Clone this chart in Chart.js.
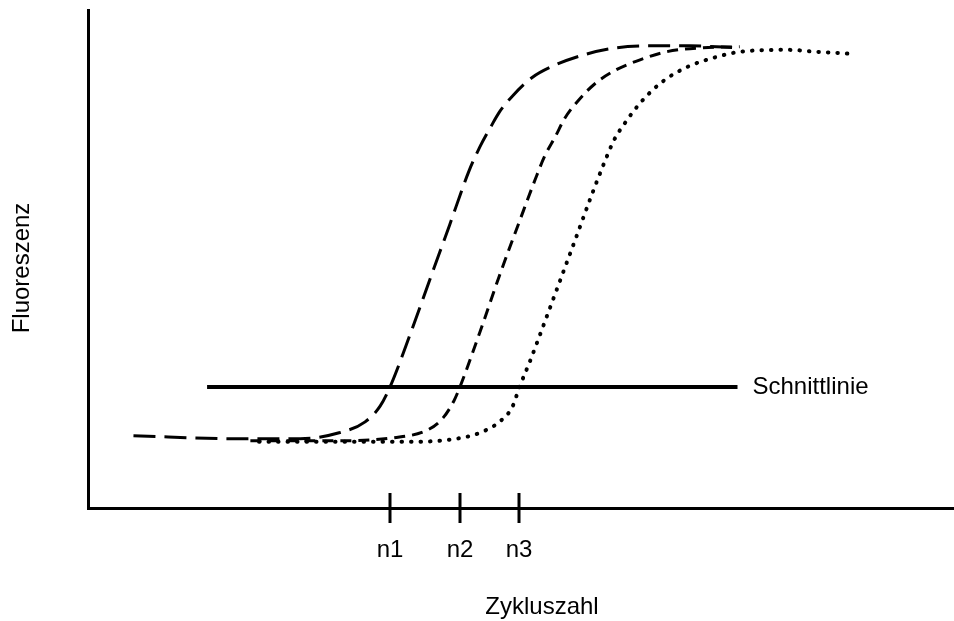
<!DOCTYPE html>
<html>
<head>
<meta charset="utf-8">
<script src="https://cdn.jsdelivr.net/npm/chart.js@4/dist/chart.umd.min.js"></script>
<style>
  html, body { margin: 0; padding: 0; background: #fff; }
  #wrap { width: 954px; height: 621px; }
</style>
</head>
<body>
<div id="wrap"><canvas id="pcrChart"></canvas></div>
<script>
// Zykluszahl (x) and Fluoreszenz (y), arbitrary units
const cycleA = [2.1, 6.9, 9.8, 11.6, 12.8, 13.5, 13.95, 14.9, 15.8, 16.7, 17.6, 18.1, 18.6, 19.0, 19.6, 20.5, 21.5, 22.9, 24.4, 26.0, 27.8, 30.1];
const fluorA = [14.5, 13.9, 13.9, 15.1, 17.3, 20.5, 24.3, 35.1, 46.0, 56.8, 67.7, 72.5, 76.5, 79.5, 82.7, 86.4, 88.8, 91.0, 92.4, 92.8, 92.8, 92.4];

const cycleB = [7.5, 11.6, 14.1, 15.7, 16.4, 16.9, 17.18, 18.1, 19.0, 19.95, 20.65, 21.1, 21.6, 22.0, 22.7, 23.5, 24.4, 25.5, 26.7, 28.3, 30.1];
const fluorB = [13.5, 13.5, 14.1, 15.7, 18.1, 21.5, 24.3, 35.3, 46.6, 57.8, 65.9, 70.7, 74.7, 78.1, 82.1, 85.5, 88.0, 90.0, 91.6, 92.4, 92.6];

const cycleC = [7.9, 13.2, 15.0, 17.0, 18.1, 19.0, 19.6, 19.93, 20.4, 21.1, 21.8, 22.5, 23.2, 23.9, 24.3, 24.8, 25.5, 26.5, 27.7, 28.9, 30.1, 32.3, 33.7, 35.3];
const fluorC = [13.3, 13.3, 13.3, 13.9, 15.1, 17.3, 20.3, 24.3, 29.3, 37.4, 45.6, 53.8, 62.1, 69.9, 73.9, 77.3, 81.3, 85.5, 88.6, 90.4, 91.6, 92.0, 91.6, 91.2];

const cutLevel = 24.3;
const cutRange = [5.5, 30.0];
const cutLabel = "Schnittlinie";

const tickCycles = [13.95, 17.18, 19.93];
const tickLabels = ["n1", "n2", "n3"];

const xTitle = "Zykluszahl";
const yTitle = "Fluoreszenz";

function pairs(xs, ys) {
    return xs.map((x, i) => ({ x: x, y: ys[i] }));
}

const FONT = "24px 'Liberation Sans', Arial, sans-serif";

// draws n1..n3 marks, their labels, axis titles and the line label
const annotations = {
    id: 'annotations',
    afterDraw(chart) {
        const ctx = chart.ctx;
        const xs = chart.scales.x;
        const ys = chart.scales.y;
        const base = chart.chartArea.bottom;
        ctx.save();
        ctx.strokeStyle = '#000';
        ctx.fillStyle = '#000';
        ctx.lineWidth = 3;
        ctx.font = FONT;
        ctx.textAlign = 'center';
        ctx.textBaseline = 'alphabetic';
        tickCycles.forEach((c, i) => {
            const px = Math.round(xs.getPixelForValue(c));
            ctx.beginPath();
            ctx.moveTo(px, base - 15);
            ctx.lineTo(px, base + 15);
            ctx.stroke();
            ctx.fillText(tickLabels[i], px, base + 49);
        });

        ctx.fillText(xTitle, 542, 614);

        ctx.save();
        ctx.translate(29, 268);
        ctx.rotate(-Math.PI / 2);
        ctx.fillText(yTitle, 0, 0);
        ctx.restore();

        ctx.textAlign = 'left';
        ctx.textBaseline = 'middle';
        ctx.fillText(cutLabel, xs.getPixelForValue(cutRange[1]) + 15, ys.getPixelForValue(cutLevel));
        ctx.restore();
    }
};

const ctx = document.getElementById('pcrChart').getContext('2d');

new Chart(ctx, {
    type: 'line',
    data: {
        datasets: [
            {
                data: pairs(cycleA, fluorA),
                borderColor: '#000',
                borderWidth: 3,
                borderDash: [22, 9],
                cubicInterpolationMode: 'monotone',
                pointRadius: 0
            },
            {
                data: pairs(cycleB, fluorB),
                borderColor: '#000',
                borderWidth: 3,
                borderDash: [11, 7],
                cubicInterpolationMode: 'monotone',
                pointRadius: 0
            },
            {
                data: pairs(cycleC, fluorC),
                borderColor: '#000',
                borderWidth: 4,
                borderDash: [0.5, 9],
                borderCapStyle: 'round',
                cubicInterpolationMode: 'monotone',
                pointRadius: 0
            },
            {
                data: [{ x: cutRange[0], y: cutLevel }, { x: cutRange[1], y: cutLevel }],
                borderColor: '#000',
                borderWidth: 4,
                pointRadius: 0
            }
        ]
    },
    options: {
        responsive: true,
        maintainAspectRatio: false,
        animation: false,
        layout: { padding: { left: 88, top: 10, right: 0, bottom: 113 } },
        plugins: {
            legend: { display: false },
            tooltip: { enabled: false }
        },
        scales: {
            x: {
                type: 'linear',
                min: 0,
                max: 40,
                ticks: { display: false },
                grid: { display: false, drawTicks: false },
                border: { display: true, color: '#000', width: 3 }
            },
            y: {
                min: 0,
                max: 100,
                ticks: { display: false },
                grid: { display: false, drawTicks: false },
                border: { display: true, color: '#000', width: 3 }
            }
        }
    },
    plugins: [annotations]
});
</script>
</body>
</html>
